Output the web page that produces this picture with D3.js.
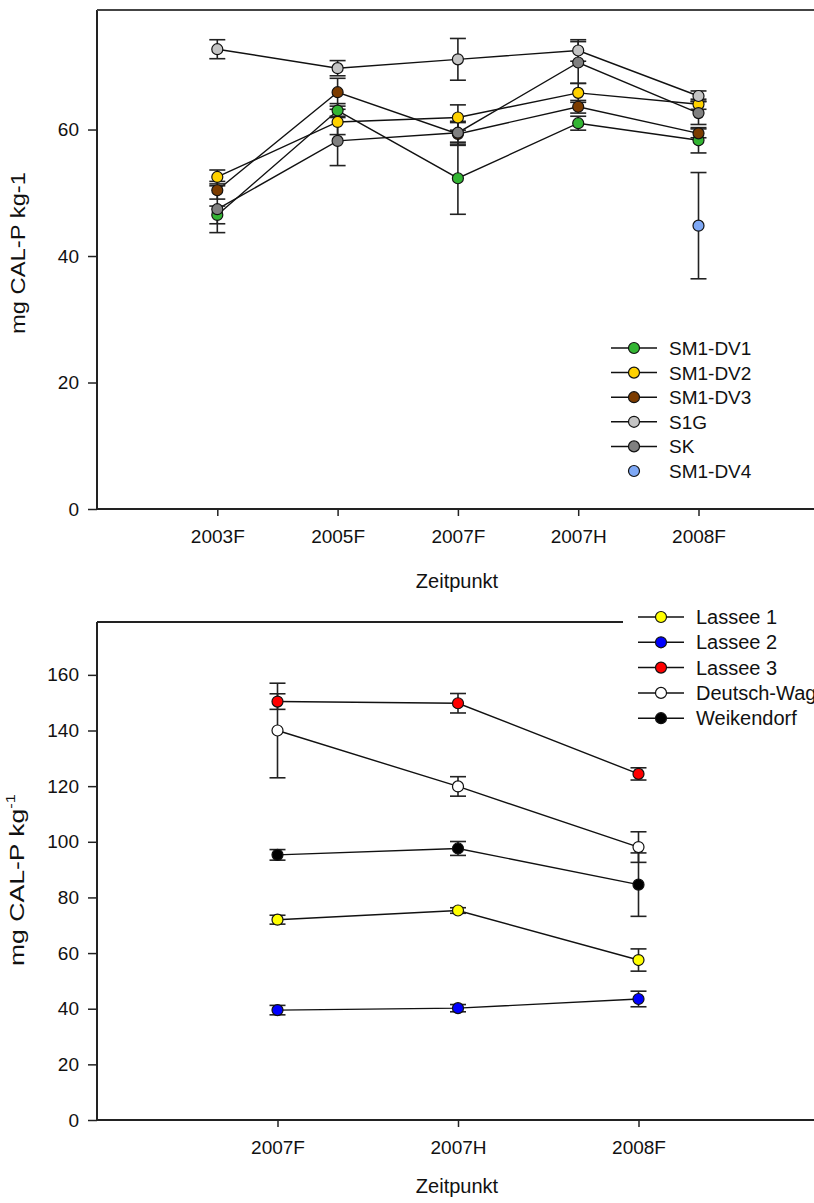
<!DOCTYPE html>
<html>
<head>
<meta charset="utf-8">
<script src="https://cdn.jsdelivr.net/npm/d3@7"></script>
<style>
  html, body { margin: 0; padding: 0; background: #fff; }
  svg { display: block; font-family: "Liberation Sans", Arial, sans-serif; }
</style>
</head>
<body>
<svg id="chart" width="814" height="1203"></svg>
<script>
// ---------- Top chart data ----------
const topCategories = ["2003F", "2005F", "2007F", "2007H", "2008F"];
const topYTicks = [0, 20, 40, 60];
const sm1dv1 = [46.5, 63.0, 52.3, 61.0, 58.3];
const sm1dv1Err = [1.4, 1.1, 5.7, 1.1, 2.0];
const sm1dv2 = [52.5, 61.2, 61.9, 65.8, 64.0];
const sm1dv2Err = [1.1, 2.0, 2.0, 1.5, 0.8];
const sm1dv3 = [50.4, 65.9, 59.3, 63.6, 59.4];
const sm1dv3Err = [1.4, 2.2, 1.8, 1.0, 0.7];
const s1g = [72.7, 69.7, 71.1, 72.5, 65.3];
const s1gErr = [1.5, 1.2, 3.3, 1.7, 0.8];
const sk = [47.4, 58.2, 59.5, 70.6, 62.6];
const skErr = [3.7, 3.9, 1.8, 3.3, 1.8];
const sm1dv4 = [null, null, null, null, 44.8];
const sm1dv4Err = [null, null, null, null, 8.4];

// ---------- Bottom chart data ----------
const botCategories = ["2007F", "2007H", "2008F"];
const botYTicks = [0, 20, 40, 60, 80, 100, 120, 140, 160];
const lassee1 = [72.0, 75.3, 57.5];
const lassee1Err = [1.6, 1.0, 4.0];
const lassee2 = [39.5, 40.2, 43.5];
const lassee2Err = [1.7, 1.3, 2.8];
const lassee3 = [150.4, 149.8, 124.4];
const lassee3Err = [2.8, 3.5, 2.2];
const deutsch = [140.0, 119.9, 98.1];
const deutschErr = [17.0, 3.5, 5.5];
const weikendorf = [95.3, 97.6, 84.6];
const weikendorfErr = [1.9, 2.5, 11.4];

const topSeries = [
  { name: "SM1-DV1", values: sm1dv1, err: sm1dv1Err, fill: "#33b533", line: true },
  { name: "SM1-DV2", values: sm1dv2, err: sm1dv2Err, fill: "#ffd200", line: true },
  { name: "SM1-DV3", values: sm1dv3, err: sm1dv3Err, fill: "#7c3c00", line: true },
  { name: "S1G", values: s1g, err: s1gErr, fill: "#c4c4c4", line: true },
  { name: "SK", values: sk, err: skErr, fill: "#808080", line: true },
  { name: "SM1-DV4", values: sm1dv4, err: sm1dv4Err, fill: "#7ea8f5", line: false }
];
const botSeries = [
  { name: "Lassee 1", values: lassee1, err: lassee1Err, fill: "#ffff00", line: true },
  { name: "Lassee 2", values: lassee2, err: lassee2Err, fill: "#0000ff", line: true },
  { name: "Lassee 3", values: lassee3, err: lassee3Err, fill: "#ff0000", line: true },
  { name: "Deutsch-Wagram", values: deutsch, err: deutschErr, fill: "#ffffff", line: true },
  { name: "Weikendorf", values: weikendorf, err: weikendorfErr, fill: "#000000", line: true }
];

const svg = d3.select("#chart");
const FONT = 19;

function drawPanel(cfg) {
  const g = svg.append("g");
  const x = d3.scaleLinear().domain([0, cfg.categories.length + 1]).range([cfg.left, cfg.right]);
  const y = d3.scaleLinear().domain([0, cfg.yMax]).range([cfg.bottom, cfg.top]);

  // frame
  g.append("line").attr("x1", cfg.left).attr("x2", cfg.left).attr("y1", cfg.top).attr("y2", cfg.bottom)
    .attr("stroke", "#222").attr("stroke-width", 2);
  g.append("line").attr("x1", cfg.left).attr("x2", 814).attr("y1", cfg.top).attr("y2", cfg.top)
    .attr("stroke", cfg.topColor).attr("stroke-width", 2);
  g.append("line").attr("x1", cfg.left).attr("x2", 814).attr("y1", cfg.bottom).attr("y2", cfg.bottom)
    .attr("stroke", "#222").attr("stroke-width", 2);

  // y axis
  const ya = g.append("g").attr("transform", `translate(${cfg.left},0)`)
    .call(d3.axisLeft(y).tickValues(cfg.yTicks).tickSize(9).tickPadding(9).tickSizeOuter(0));
  ya.select(".domain").remove();
  ya.selectAll("line").attr("stroke", "#222").attr("stroke-width", 1.5);
  ya.selectAll("text").attr("font-size", FONT).attr("font-family", "Liberation Sans, Arial").attr("fill", "#111");

  // x axis
  const xa = g.append("g").attr("transform", `translate(0,${cfg.bottom})`)
    .call(d3.axisBottom(x).tickValues(d3.range(1, cfg.categories.length + 1))
      .tickFormat(i => cfg.categories[i - 1]).tickSize(7).tickPadding(14).tickSizeOuter(0));
  xa.select(".domain").remove();
  xa.selectAll("line").attr("stroke", "#222").attr("stroke-width", 1.5);
  xa.selectAll("text").attr("font-size", FONT).attr("font-family", "Liberation Sans, Arial").attr("fill", "#111");

  // titles
  g.append("text").attr("x", 457).attr("y", cfg.xTitleY).attr("text-anchor", "middle")
    .attr("font-size", 20).attr("fill", "#111").text("Zeitpunkt");
  const yt = g.append("text")
    .attr("transform", `translate(${cfg.yTitleX},${cfg.yTitleY}) rotate(-90)`)
    .attr("text-anchor", "middle").attr("font-size", 21).attr("fill", "#111")
    .attr("textLength", cfg.yTitleLen).attr("lengthAdjust", "spacingAndGlyphs");
  if (cfg.superscript) {
    yt.append("tspan").text("mg CAL-P kg");
    yt.append("tspan").attr("font-size", 13).attr("dy", -9).text("-1");
  } else {
    yt.text("mg CAL-P kg-1");
  }

  // lines
  const lineGen = d3.line().defined(d => d.v != null).x(d => x(d.i + 1)).y(d => y(d.v));
  cfg.series.forEach(s => {
    const pts = s.values.map((v, i) => ({ v, i, e: s.err[i] }));
    if (s.line) {
      g.append("path").datum(pts).attr("d", lineGen).attr("fill", "none")
        .attr("stroke", "#111").attr("stroke-width", 1.4);
    }
  });
  // error bars
  cfg.series.forEach(s => {
    const pts = s.values.map((v, i) => ({ v, i, e: s.err[i] })).filter(d => d.v != null);
    const eg = g.append("g").attr("stroke", "#222").attr("stroke-width", 1.6);
    pts.forEach(d => {
      const cx = x(d.i + 1);
      eg.append("line").attr("x1", cx).attr("x2", cx).attr("y1", y(d.v - d.e)).attr("y2", y(d.v + d.e));
      eg.append("line").attr("x1", cx - cfg.cap).attr("x2", cx + cfg.cap).attr("y1", y(d.v - d.e)).attr("y2", y(d.v - d.e));
      eg.append("line").attr("x1", cx - cfg.cap).attr("x2", cx + cfg.cap).attr("y1", y(d.v + d.e)).attr("y2", y(d.v + d.e));
    });
  });
  // points
  cfg.series.forEach(s => {
    const pts = s.values.map((v, i) => ({ v, i })).filter(d => d.v != null);
    g.append("g").selectAll("circle").data(pts).join("circle")
      .attr("cx", d => x(d.i + 1)).attr("cy", d => y(d.v)).attr("r", cfg.r)
      .attr("fill", s.fill).attr("stroke", "#111").attr("stroke-width", 1.2);
  });

  // legend
  const lg = g.append("g");
  if (cfg.legendBg) {
    lg.append("rect").attr("x", cfg.legendX - 15).attr("y", cfg.legendY - 14)
      .attr("width", 814 - cfg.legendX + 15).attr("height", cfg.series.length * cfg.legendStep + 6)
      .attr("fill", "#fff");
  }
  cfg.series.forEach((s, k) => {
    const ly = cfg.legendY + k * cfg.legendStep;
    if (s.line) {
      lg.append("line").attr("x1", cfg.legendX).attr("x2", cfg.legendX + 46).attr("y1", ly).attr("y2", ly)
        .attr("stroke", "#111").attr("stroke-width", 1.5);
    }
    lg.append("circle").attr("cx", cfg.legendX + 23).attr("cy", ly).attr("r", cfg.r)
      .attr("fill", s.fill).attr("stroke", "#111").attr("stroke-width", 1.2);
    lg.append("text").attr("x", cfg.legendX + 58).attr("y", ly + 7).attr("font-size", cfg.legendFont)
      .attr("fill", "#111").text(s.name);
  });
}

drawPanel({
  categories: topCategories, series: topSeries, yTicks: topYTicks, yMax: 78.9,
  left: 97, right: 97 + 6 * 120.3, top: 10, bottom: 509, topColor: "#444",
  xTitleY: 588, yTitleX: 25, yTitleY: 253, yTitleLen: 162, superscript: false,
  r: 5.5, cap: 8, legendX: 611, legendY: 348, legendStep: 24.6, legendBg: false, legendFont: 19
});

drawPanel({
  categories: botCategories, series: botSeries, yTicks: botYTicks, yMax: 179,
  left: 97, right: 97 + 4 * 180.5, top: 622, bottom: 1120, topColor: "#222",
  xTitleY: 1193, yTitleX: 24, yTitleY: 880, yTitleLen: 172, superscript: true,
  r: 5.5, cap: 8, legendX: 638, legendY: 617, legendStep: 25.3, legendBg: true, legendFont: 20
});
</script>
</body>
</html>
